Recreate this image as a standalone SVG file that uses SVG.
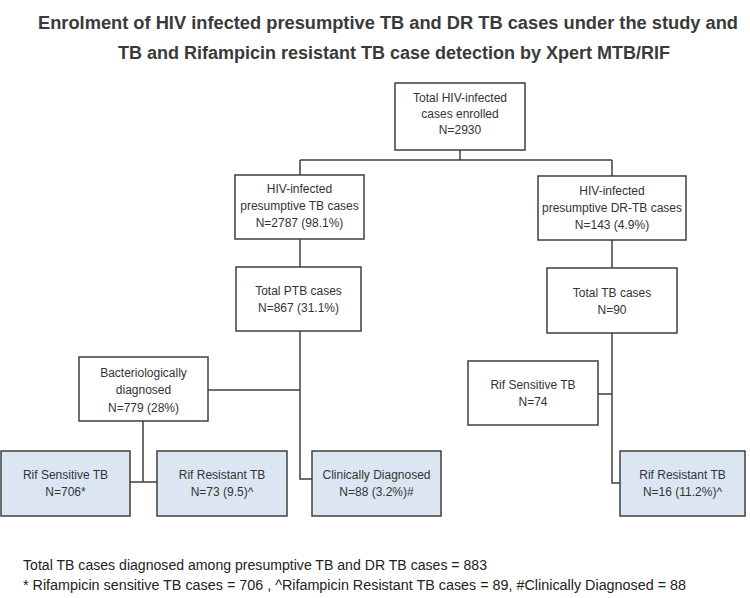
<svg xmlns="http://www.w3.org/2000/svg" width="750" height="598" viewBox="0 0 750 598">
<style>
.title{font-family:"Liberation Sans",Arial,sans-serif;font-weight:bold;font-size:18px;fill:#3a3a3a;text-anchor:middle}
.box{fill:#ffffff;stroke:#3f3f3f;stroke-width:1.5}
.blue{fill:#dce6f2;stroke:#3f3f3f;stroke-width:1.5}
.t{font-family:"Liberation Sans",Arial,sans-serif;font-size:12px;fill:#333333;text-anchor:middle}
.foot{font-family:"Liberation Sans",Arial,sans-serif;font-size:14px;fill:#222222}
.c{fill:none;stroke:#3f3f3f;stroke-width:1.5}
</style>
<rect width="750" height="598" fill="#ffffff"/>
<text class="title" x="388" y="29" textLength="700" lengthAdjust="spacingAndGlyphs">Enrolment of HIV infected presumptive TB and DR TB cases under the study and</text>
<text class="title" x="394" y="59" textLength="552" lengthAdjust="spacingAndGlyphs">TB and Rifampicin resistant TB case detection by Xpert MTB/RIF</text>

<g id="connectors">
<path class="c" d="M460 150 V160 M300 160 H612 M300 160 V175 M612 160 V176"/>
<path class="c" d="M300 239 V267 M612 240 V268"/>
<path class="c" d="M300 331 V479 H312 M208 390 H300"/>
<path class="c" d="M143 421 V482 M130 482 H157"/>
<path class="c" d="M612 333 V483 H620 M598 394 H612"/>
</g>

<g id="n-total">
<rect class="box" x="395" y="83" width="130" height="67"/>
<text class="t" x="460" y="102">Total HIV-infected</text>
<text class="t" x="460" y="118">cases enrolled</text>
<text class="t" x="460" y="134">N=2930</text>
</g>
<g id="n-ptb-presumptive">
<rect class="box" x="235" y="175" width="129" height="64"/>
<text class="t" x="299.5" y="193">HIV-infected</text>
<text class="t" x="299.5" y="210">presumptive TB cases</text>
<text class="t" x="299.5" y="227">N=2787 (98.1%)</text>
</g>
<g id="n-dr-presumptive">
<rect class="box" x="538" y="176" width="148" height="64"/>
<text class="t" x="612" y="195">HIV-infected</text>
<text class="t" x="612" y="212">presumptive DR-TB cases</text>
<text class="t" x="612" y="229">N=143 (4.9%)</text>
</g>
<g id="n-ptb">
<rect class="box" x="236" y="267" width="125" height="64"/>
<text class="t" x="298.5" y="295">Total PTB cases</text>
<text class="t" x="298.5" y="312">N=867 (31.1%)</text>
</g>
<g id="n-totaltb">
<rect class="box" x="547" y="268" width="130" height="65"/>
<text class="t" x="612" y="297">Total TB cases</text>
<text class="t" x="612" y="314">N=90</text>
</g>
<g id="n-bact">
<rect class="box" x="79" y="357" width="129" height="64"/>
<text class="t" x="143.5" y="377">Bacteriologically</text>
<text class="t" x="143.5" y="394">diagnosed</text>
<text class="t" x="143.5" y="412">N=779 (28%)</text>
</g>
<g id="n-rifsens-right">
<rect class="box" x="468" y="361" width="130" height="64"/>
<text class="t" x="533" y="389">Rif Sensitive TB</text>
<text class="t" x="533" y="406">N=74</text>
</g>
<g id="n-rifsens-left">
<rect class="blue" x="1" y="451" width="129" height="65"/>
<text class="t" x="65.5" y="479">Rif Sensitive TB</text>
<text class="t" x="65.5" y="496">N=706*</text>
</g>
<g id="n-rifres-left">
<rect class="blue" x="157" y="451" width="130" height="65"/>
<text class="t" x="222" y="479">Rif Resistant TB</text>
<text class="t" x="222" y="496">N=73 (9.5)^</text>
</g>
<g id="n-clin">
<rect class="blue" x="312" y="451" width="129" height="65"/>
<text class="t" x="376.5" y="479">Clinically Diagnosed</text>
<text class="t" x="376.5" y="496">N=88 (3.2%)#</text>
</g>
<g id="n-rifres-right">
<rect class="blue" x="620" y="451" width="125" height="65"/>
<text class="t" x="682.5" y="479">Rif Resistant TB</text>
<text class="t" x="682.5" y="496">N=16 (11.2%)^</text>
</g>

<text class="foot" x="23" y="570" textLength="464" lengthAdjust="spacingAndGlyphs">Total TB cases diagnosed among presumptive TB and DR TB cases =  883</text>
<text class="foot" x="23" y="590" textLength="663" lengthAdjust="spacingAndGlyphs">* Rifampicin sensitive TB cases = 706 , ^Rifampicin Resistant TB  cases = 89, #Clinically Diagnosed = 88</text>
</svg>
